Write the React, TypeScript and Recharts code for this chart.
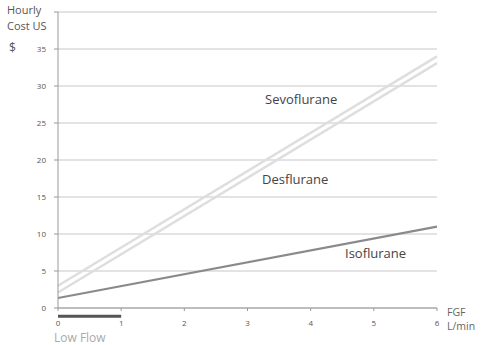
import { LineChart, Line, XAxis, YAxis, CartesianGrid, ReferenceLine } from "recharts";

const fgf = [0, 6];
const sevoflurane = [3.0, 34.0];
const desflurane = [2.1, 33.1];
const isoflurane = [1.35, 11.0];

const xTicks = [0, 1, 2, 3, 4, 5, 6];
const yTicks = [0, 5, 10, 15, 20, 25, 30, 35, 40];
const lowFlow = [0, 1];

const data = fgf.map((x, i) => ({
  fgf: x,
  sevo: sevoflurane[i],
  des: desflurane[i],
  iso: isoflurane[i],
}));

const font = "'Open Sans', 'Noto Sans', sans-serif";

export default function App() {
  return (
    <div style={{ position: "absolute", left: 0, top: 0, width: 485, height: 345, fontFamily: font, overflow: "hidden", background: "#fff" }}>
      <LineChart width={485} height={345} data={data} margin={{ top: 12, right: 48, bottom: 0, left: 0 }}>
        <CartesianGrid vertical={false} stroke="#c8c8c8" strokeWidth={1.2} />
        <XAxis
          dataKey="fgf"
          type="number"
          domain={[0, 6]}
          ticks={xTicks}
          stroke="#999"
          tickSize={3}
          tick={{ fontSize: 8, fill: "#555", dy: 7 }}
          height={37}
        />
        <YAxis
          type="number"
          domain={[0, 40]}
          ticks={yTicks}
          width={58}
          stroke="#999"
          tickSize={4}
          tickFormatter={(v: number) => (v === 40 ? "" : String(v))}
          tick={{ fontSize: 8, fill: "#555", dx: -6 }}
        />
        <ReferenceLine
          segment={[{ x: lowFlow[0], y: -1.1 }, { x: lowFlow[1], y: -1.1 }]}
          ifOverflow="visible"
          stroke="#555"
          strokeWidth={3}
        />
        <Line dataKey="sevo" stroke="#dedede" strokeWidth={2.5} dot={false} isAnimationActive={false} />
        <Line dataKey="des" stroke="#dedede" strokeWidth={2.5} dot={false} isAnimationActive={false} />
        <Line dataKey="iso" stroke="#8a8a8a" strokeWidth={2.2} dot={false} isAnimationActive={false} />
      </LineChart>
      <div style={{ position: "absolute", left: 7, top: 2, fontSize: 11, lineHeight: "16px", color: "#555" }}>
        Hourly<br />Cost US
      </div>
      <div style={{ position: "absolute", left: 9, top: 39, fontSize: 12, color: "#555" }}>$</div>
      <div style={{ position: "absolute", left: 447, top: 305, fontSize: 10.5, lineHeight: "14px", color: "#666" }}>
        FGF<br />L/min
      </div>
      <div style={{ position: "absolute", left: 265, top: 90, fontSize: 13, color: "#444" }}>Sevoflurane</div>
      <div style={{ position: "absolute", left: 262, top: 170, fontSize: 13, color: "#444" }}>Desflurane</div>
      <div style={{ position: "absolute", left: 345, top: 244, fontSize: 13, color: "#444" }}>Isoflurane</div>
      <div style={{ position: "absolute", left: 54, top: 331, fontSize: 12, lineHeight: "14px", color: "#aaa" }}>Low Flow</div>
    </div>
  );
}
